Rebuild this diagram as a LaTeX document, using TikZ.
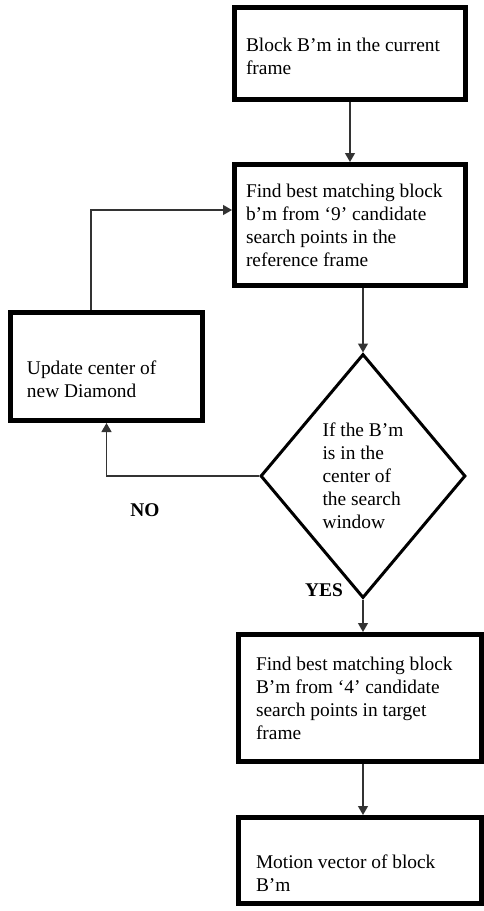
\documentclass[tikz,border=0pt]{standalone}
\usepackage{fontspec}
\setmainfont{Liberation Serif}
\usetikzlibrary{shapes.geometric, arrows.meta, positioning}

\begin{document}
\begin{tikzpicture}[x=1pt, y=-1pt, >={Triangle[width=10pt,length=9pt]},
    font=\fontsize{19.4}{23}\selectfont,
    blk/.style={draw, rectangle, line width=5pt, align=flush left, inner sep=0pt},
    dec/.style={draw, diamond, line width=3pt, align=flush left, inner sep=0pt},
    link/.style={->, line width=1.3pt, black!80},
    ans/.style={font=\fontsize{19.4}{23}\selectfont\bfseries}]
    \useasboundingbox (0,0) rectangle (484,911);
    \node[blk, minimum width=231pt, minimum height=92pt, text width=208pt] (cur) at (350,53.5) {\rule{0pt}{20pt}Block B’m in the current\\frame};
    \node[blk, minimum width=231pt, minimum height=121pt, text width=208pt] (best9) at (350,225) {Find best matching block\\b’m from ‘9’ candidate\\search points in the\\reference frame};
    \node[blk, minimum width=192pt, minimum height=108pt, text width=159pt] (upd) at (106.5,366.5) {\rule{0pt}{40pt}Update center of\\new Diamond};
    \node[dec, minimum width=205pt, minimum height=244pt] (dia) at (363,476) {If the B’m\\is in the\\center of\\the search\\window};
    \node[blk, minimum width=243pt, minimum height=127pt, text width=208pt] (best4) at (360,698) {Find best matching block\\B’m from ‘4’ candidate\\search points in target\\frame};
    \node[blk, minimum width=243pt, minimum height=86pt, text width=208pt] (mv) at (360,860.5) {\rule{0pt}{40pt}Motion vector of block\\B’m};
    \node[ans] (no) at (145,510) {NO};
    \node[ans] (yes) at (324,590) {YES};
    \draw[link] (cur) -- (best9);
    \draw[link] (best9.south -| dia.north) -- (dia.north);
    \draw[link] (dia.west) -| (upd.south);
    \draw[link] ([xshift=-15.5pt]upd.north) |- ([yshift=15pt]best9.west);
    \draw[link] (dia.south) -- (dia.south |- best4.north);
    \draw[link] (dia.south |- best4.south) -- (dia.south |- mv.north);
\end{tikzpicture}
\end{document}
